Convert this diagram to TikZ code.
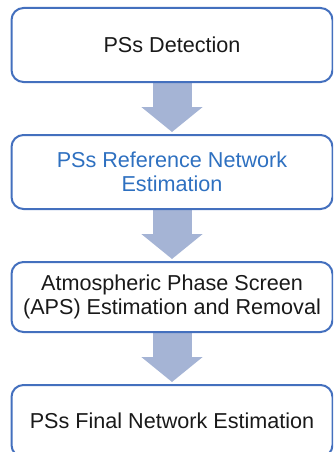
\documentclass[tikz,border=0pt]{standalone}
\usepackage{fontspec}
\setmainfont{Liberation Sans}
\usetikzlibrary{
    arrows.meta,
    backgrounds,
    positioning,
}
\definecolor{boxline}{HTML}{4470BE}
\definecolor{arrowfill}{HTML}{A5B4D5}
\definecolor{bluetext}{HTML}{2E70C0}
\tikzstyle{stepbox}=[draw=boxline, line width=2pt, rounded corners=12pt, minimum width=321pt, inner sep=0pt, outer sep=0pt, align=center, text=black!90, font=\fontsize{21.6}{23.5}\selectfont]
\tikzstyle{arrow}=[draw=arrowfill, line width=39pt, -{Triangle[length=25pt, width=60pt]}, shorten >=3pt]

\begin{document}
\begin{tikzpicture}[x=1pt, y=1pt, node distance=53pt]
            \clip (0,0) rectangle (333,-452);
            \node[stepbox, minimum height=74pt] (detect) at (172,-45) {PSs Detection};
            \node[stepbox, minimum height=74pt, below=of detect, text=bluetext] (refnet) {PSs Reference Network\\Estimation};
            \node[stepbox, minimum height=70pt, below=of refnet] (aps) {Atmospheric Phase Screen\\(APS) Estimation and Removal};
            \node[stepbox, minimum height=72pt, below=of aps] (finalnet) {PSs Final Network Estimation};
            \begin{scope}[on background layer]
                \draw[arrow] (detect) -- (refnet);
                \draw[arrow] (refnet) -- (aps);
                \draw[arrow] (aps) -- (finalnet);
            \end{scope}
        \end{tikzpicture}
\end{document}
